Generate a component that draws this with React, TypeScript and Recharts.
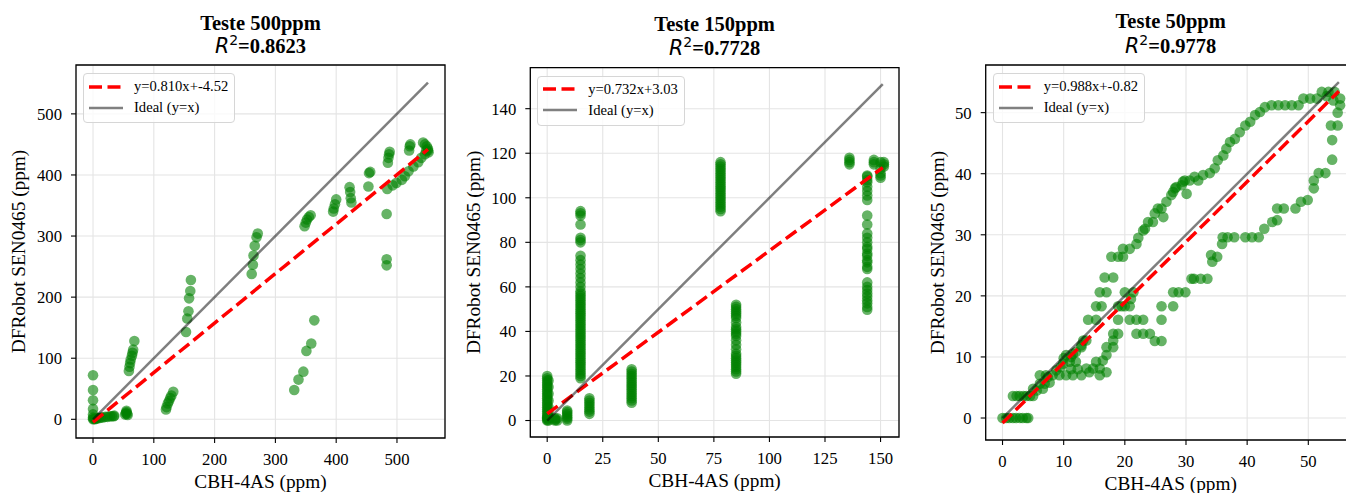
import { ScatterChart, Scatter, XAxis, YAxis, CartesianGrid, ReferenceArea } from "recharts";

const SERIF = '"Liberation Serif", "Times New Roman", serif';
const MATH = '"DejaVu Sans", sans-serif';

// ---- Teste 500ppm ----
const p500Points: [number, number][] = [
  [0, 72], [0, 48], [0, 31], [0, 17], [0, 8], [0, 3], [0, 0], [1, 1],
  [3, 0], [5, 1], [7, 2], [10, 2], [13, 3], [16, 3], [20, 4], [24, 4], [28, 5], [31, 5], [34, 5], [35, 6],
  [53, 8], [54, 10], [55, 12], [56, 9], [57, 7], [55, 14],
  [59, 79], [60, 86], [61, 92], [62, 98], [64, 104], [65, 109], [66, 114], [68, 128],
  [120, 16], [121, 20], [123, 26], [125, 30], [127, 35], [129, 39], [132, 45],
  [153, 143], [155, 165], [157, 177], [158, 198], [160, 210], [161, 228],
  [261, 238], [263, 253], [264, 268], [266, 284], [269, 298], [271, 304],
  [331, 48], [338, 65], [346, 78], [351, 112], [359, 124], [364, 162],
  [348, 316], [350, 322], [352, 327], [355, 331], [358, 334],
  [395, 340], [396, 345], [398, 352], [400, 360],
  [422, 380], [423, 372], [424, 362], [425, 355],
  [453, 381], [454, 403], [456, 405],
  [483, 336], [483, 262], [483, 252], [484, 377], [485, 420], [486, 428], [487, 434], [488, 438],
  [493, 383], [499, 387], [508, 392], [513, 398], [519, 406], [527, 414], [535, 421], [540, 428], [546, 434], [551, 440],
  [520, 440], [521, 447], [522, 450],
  [543, 453], [546, 450], [549, 447], [551, 443], [552, 437], [548, 440],
];

// ---- Teste 150ppm (columns: x, readings) ----
const p150Columns: [number, number[]][] = [
  [0, [0, 0.5, 1, 1.5, 2, 3, 4, 5, 6, 7, 8, 9, 10, 11, 12, 13, 14, 15, 16, 17, 18, 19, 20]],
  [0.6, [0, 1, 2, 4, 6, 9, 12, 15, 18]],
  [3.5, [0, 1, 0.5]],
  [4.5, [0, 1]],
  [9, [0, 0.8, 1.5, 2.2, 3, 3.8, 4.5]],
  [15, [19, 20, 21, 22, 23, 24, 25, 26, 27, 28, 29, 30, 31, 32, 33, 34, 35, 36, 37, 38, 39, 40, 41, 42, 43, 44,
    45, 46, 47, 48, 49, 50, 51, 52, 53, 54, 55, 56, 57, 58, 60, 62, 64, 66, 68, 70, 72, 74, 80, 81, 82, 88, 92, 93, 94]],
  [19, [3, 4, 5, 6, 7, 8, 9, 10]],
  [38, [8, 9, 10, 11, 12, 13, 14, 15, 16, 17, 18, 19, 20, 21, 22, 23]],
  [78, [94, 95, 96, 97, 98, 99, 100, 101, 102, 103, 104, 105, 106, 107, 108, 109, 110, 111, 112, 113, 114, 115, 116]],
  [85, [21, 22, 23, 24, 25, 26, 27, 28, 29, 30, 32, 34, 36, 38, 39, 40, 41, 42, 44, 46, 47, 48, 49, 50, 51, 52]],
  [136, [115, 116, 117, 118]],
  [144, [49.7, 51, 52.6, 54, 55.6, 57, 58.6, 60, 62, 68, 69, 71, 72, 74, 75, 77, 78, 80, 82, 84, 88, 92,
    99, 101, 103, 105, 107, 108, 109.5, 110]],
  [147, [115, 116, 117]],
  [150, [109, 110, 111, 113, 116]],
  [151.5, [114, 115, 116]],
];

// ---- Teste 50ppm ----
const p50Points: [number, number][] = [
  [0, 0], [0.6, 0], [1.1, 0], [1.7, 0], [2.2, 0], [2.8, 0], [3.3, 0], [3.9, 0], [4.2, 0],
  [1.7, 3.6], [2.3, 3.6], [2.8, 3.6], [3.4, 3.6], [3.9, 3.6], [4.5, 3.6], [5, 3.6],
  [5, 4.8], [5.6, 4.5], [6.6, 4.8], [6.1, 5.6], [6.9, 5.6], [7.7, 5.8],
  [6.1, 7], [7.1, 7], [8.2, 7], [9.3, 7], [10.4, 7], [11.5, 7], [12.9, 7], [14.2, 7.5], [15.9, 7], [17, 7.5],
  [11.2, 8], [12.3, 8], [13.7, 8.1], [14.8, 8.1], [15.9, 8.1],
  [7.4, 6.7], [8.8, 7.8], [9.9, 8.9], [11, 9.2], [12, 9.2], [15.3, 9.2], [16.4, 9.4],
  [10.4, 10.3], [11.2, 10], [11.5, 10.5], [17, 10.3], [10, 9.8], [9.5, 8.3],
  [12, 10.8], [12.9, 11.6], [17, 11.6], [18.1, 11.6],
  [12.9, 11.9], [13.7, 12.7], [13.2, 12.7], [18.1, 12.7],
  [18.1, 13.8], [18.9, 13.8],
  [14, 16.1], [15.3, 16.1], [18.9, 16.1],
  [15.3, 18.3], [16.2, 18.3], [18.9, 18.3], [19.5, 18.3], [20, 18.3], [20.8, 18.3],
  [15.9, 20.6], [17, 20.6], [20, 20.6], [21.4, 20.6], [21, 19.5],
  [16.7, 23], [18.1, 23],
  [17.8, 26.4], [18.9, 26.4], [19.7, 26.4],
  [19.7, 27.7], [20.8, 27.7], [21.9, 28.5], [22.2, 29.5], [23, 30.7], [23.3, 31], [23.8, 32.1], [24.6, 32.1],
  [24.9, 33.5], [25.4, 34.3], [26, 34.3], [26.3, 32.9], [26.8, 35.4], [27.6, 36.5], [27.9, 37], [28.2, 37.6],
  [28.4, 37.8], [29.3, 38.1], [29.5, 38.7], [29.8, 38.9], [30.1, 36.7], [30.6, 38.9], [31.4, 39.5], [32, 38.9],
  [32.8, 39.8], [33.9, 40.1], [34.7, 40.9], [35.2, 42.2], [36.1, 43], [36.6, 44.1], [37.2, 45.2], [38, 45.7],
  [38.8, 46.8], [39.7, 47.9], [40.5, 48.5], [41.3, 49.6], [42.1, 50.1], [42.9, 50.9], [44, 51.2], [45.1, 51.2],
  [46.2, 51.2], [47.3, 51.2], [48.4, 51.2], [49.2, 52.3], [50.3, 52.3], [51.4, 52.3], [52.2, 53.4], [53.3, 53.4],
  [54.3, 53.4], [55.2, 52.3], [55.2, 51.2], [54.1, 52], [53, 52.7],
  [54.8, 50], [53.7, 47.9], [54.8, 47.9], [53.9, 45.5], [53.9, 42.3], [52.8, 40.1], [51.7, 40.1], [50.9, 38.9],
  [50.9, 37.6], [49.9, 35.7], [48.8, 35.4], [47.9, 34.3], [46, 34.3], [44.9, 34.3], [44.9, 32.4], [44.1, 32.1],
  [42.8, 31], [41.9, 29.6], [40.8, 29.6], [39.7, 29.6], [37.9, 29.6], [36.8, 29.6], [36, 29.6], [35.9, 28.5],
  [35.1, 26.4], [34.3, 25.6], [34.1, 26.7], [33.5, 22.8], [32.4, 22.8], [31.3, 22.8], [30.9, 22.8],
  [29.9, 20.6], [28.8, 20.6], [27.9, 20.6], [27.9, 18.3], [26, 18.3], [26, 16.1], [26, 12.6], [24.9, 12.6],
  [24.1, 13.8], [23, 13.8], [21.9, 13.8], [23, 16.1], [21.9, 16.1], [20.8, 16.1],
];

const toXY = (pts: [number, number][]) => pts.map(([x, y]) => ({ x, y }));
const colsToXY = (cols: [number, number[]][]) =>
  cols.flatMap(([x, ys]) => ys.map((y) => ({ x, y })));

type Panel = {
  title: string;
  r2: string;
  slope: number;
  intercept: number;
  fitLabel: string;
  xMax: number;
  points: { x: number; y: number }[];
  left: number;
  width: number;
  top: number;
  right: number;
  yAxisWidth: number;
  xAxisHeight: number;
  xDomain: [number, number];
  yDomain: [number, number];
  xTicks: number[];
  yTicks: number[];
  yLabelOffset: number;
  titleY: [number, number];
};

const panels: Panel[] = [
  {
    title: "Teste 500ppm", r2: "0.8623", slope: 0.81, intercept: -4.52, fitLabel: "y=0.810x+-4.52", xMax: 551,
    points: toXY(p500Points),
    left: 0, width: 450, top: 65, right: 5, yAxisWidth: 76, xAxisHeight: 55,
    xDomain: [-28, 579], yDomain: [-30.6, 580],
    xTicks: [0, 100, 200, 300, 400, 500], yTicks: [0, 100, 200, 300, 400, 500],
    yLabelOffset: 18.3, titleY: [30, 53.3],
  },
  {
    title: "Teste 150ppm", r2: "0.7728", slope: 0.732, intercept: 3.03, fitLabel: "y=0.732x+3.03", xMax: 151,
    points: colsToXY(p150Columns),
    left: 450, width: 450, top: 67.7, right: 1, yAxisWidth: 80.3, xAxisHeight: 56,
    xDomain: [-7.6, 158.3], yDomain: [-7.4, 158.4],
    xTicks: [0, 25, 50, 75, 100, 125, 150], yTicks: [0, 20, 40, 60, 80, 100, 120, 140],
    yLabelOffset: 23.5, titleY: [31, 55],
  },
  {
    title: "Teste 50ppm", r2: "0.9778", slope: 0.988, intercept: -0.82, fitLabel: "y=0.988x+-0.82", xMax: 55,
    points: toXY(p50Points),
    left: 900, width: 460, top: 65, right: 4.3, yAxisWidth: 85.7, xAxisHeight: 53,
    xDomain: [-2.75, 57.75], yDomain: [-3.6, 57.8],
    xTicks: [0, 10, 20, 30, 40, 50], yTicks: [0, 10, 20, 30, 40, 50],
    yLabelOffset: 36.7, titleY: [28.3, 52.7],
  },
];

const GreenDot = (p: any) => (
  <circle cx={p.cx} cy={p.cy} r={5.3} fill="#008000" fillOpacity={0.6} />
);
const NoDot = () => <g />;

const tickStyle = { fill: "#000", fontSize: 16.7, fontFamily: SERIF };

function PanelChart({ p }: { p: Panel }) {
  const fit = [
    { x: 0, y: p.intercept },
    { x: p.xMax, y: p.slope * p.xMax + p.intercept },
  ];
  const ideal = [
    { x: 0, y: 0 },
    { x: p.xMax, y: p.xMax },
  ];
  const plotLeft = p.yAxisWidth;
  const cx = plotLeft + (p.width - p.yAxisWidth - p.right) / 2;

  return (
    <div style={{ position: "absolute", left: p.left, top: 0, width: p.width, height: 493 }}>
      <ScatterChart width={p.width} height={493} margin={{ top: p.top, right: p.right, bottom: 0, left: 0 }}>
        <CartesianGrid stroke="#e4e4e4" strokeWidth={1.1} />
        <XAxis
          type="number"
          dataKey="x"
          domain={p.xDomain}
          ticks={p.xTicks}
          allowDataOverflow
          height={p.xAxisHeight}
          axisLine={false}
          tickLine={{ stroke: "#000", strokeWidth: 1.1 }}
          tickSize={5}
          tickMargin={10}
          tick={tickStyle}
          label={{
            value: "CBH-4AS (ppm)",
            position: "insideBottom",
            offset: p.xAxisHeight - 50,
            fill: "#000",
            fontSize: 19.3,
            fontFamily: SERIF,
          }}
        />
        <YAxis
          type="number"
          dataKey="y"
          domain={p.yDomain}
          ticks={p.yTicks}
          allowDataOverflow
          width={p.yAxisWidth}
          axisLine={false}
          tickLine={{ stroke: "#000", strokeWidth: 1.1 }}
          tickSize={5}
          tickMargin={9}
          tick={tickStyle}
          label={{
            value: "DFRobot SEN0465 (ppm)",
            angle: -90,
            position: "insideLeft",
            offset: p.yLabelOffset,
            fill: "#000",
            fontSize: 19.3,
            fontFamily: SERIF,
            style: { textAnchor: "middle" },
          }}
        />
        <Scatter data={p.points} shape={GreenDot} isAnimationActive={false} />
        <Scatter
          data={fit}
          shape={NoDot}
          line={{ stroke: "#ff0000", strokeWidth: 3.5, strokeDasharray: "13 5.5" }}
          isAnimationActive={false}
        />
        <Scatter
          data={ideal}
          shape={NoDot}
          line={{ stroke: "#000", strokeOpacity: 0.5, strokeWidth: 2.5 }}
          isAnimationActive={false}
        />
        <ReferenceArea
          x1={p.xDomain[0]}
          x2={p.xDomain[1]}
          y1={p.yDomain[0]}
          y2={p.yDomain[1]}
          fill="none"
          stroke="#000"
          strokeWidth={1.3}
          ifOverflow="visible"
        />
      </ScatterChart>

      <svg width={p.width} height={62} style={{ position: "absolute", left: 0, top: 0, pointerEvents: "none" }}>
        <text x={cx} y={p.titleY[0]} textAnchor="middle" fontFamily={SERIF} fontWeight="bold" fontSize={20.5} fill="#000">
          {p.title}
        </text>
        <text x={cx} y={p.titleY[1]} textAnchor="middle" fontSize={20.5} fill="#000">
          <tspan fontFamily={MATH} fontStyle="italic">R</tspan><tspan fontFamily={MATH} fontSize={14} dy={-8}>2</tspan><tspan fontFamily={SERIF} fontWeight="bold" dy={8}>={p.r2}</tspan>
        </text>
      </svg>

      <div
        style={{
          position: "absolute",
          left: plotLeft + 7,
          top: p.top + 8,
          border: "1px solid #d6d6d6",
          borderRadius: 4,
          background: "rgba(255,255,255,0.8)",
          padding: "2px 6px 4px 5px",
          fontFamily: SERIF,
          fontSize: 14.6,
          color: "#000",
        }}
      >
        <div style={{ display: "flex", alignItems: "center", height: 21 }}>
          <svg width={34} height={8}>
            <line x1={0} y1={4} x2={34} y2={4} stroke="#ff0000" strokeWidth={3.5} strokeDasharray="13 5.5" />
          </svg>
          <span style={{ marginLeft: 11, whiteSpace: "nowrap" }}>{p.fitLabel}</span>
        </div>
        <div style={{ display: "flex", alignItems: "center", height: 21 }}>
          <svg width={34} height={8}>
            <line x1={0} y1={4} x2={34} y2={4} stroke="#808080" strokeWidth={2.5} />
          </svg>
          <span style={{ marginLeft: 11, whiteSpace: "nowrap" }}>Ideal (y=x)</span>
        </div>
      </div>
    </div>
  );
}

export default function App() {
  return (
    <div
      style={{
        position: "absolute",
        left: 0,
        top: 0,
        width: 1346,
        height: 493,
        overflow: "hidden",
        background: "#fff",
        fontFamily: SERIF,
      }}
    >
      {panels.map((p) => (
        <PanelChart key={p.title} p={p} />
      ))}
    </div>
  );
}
